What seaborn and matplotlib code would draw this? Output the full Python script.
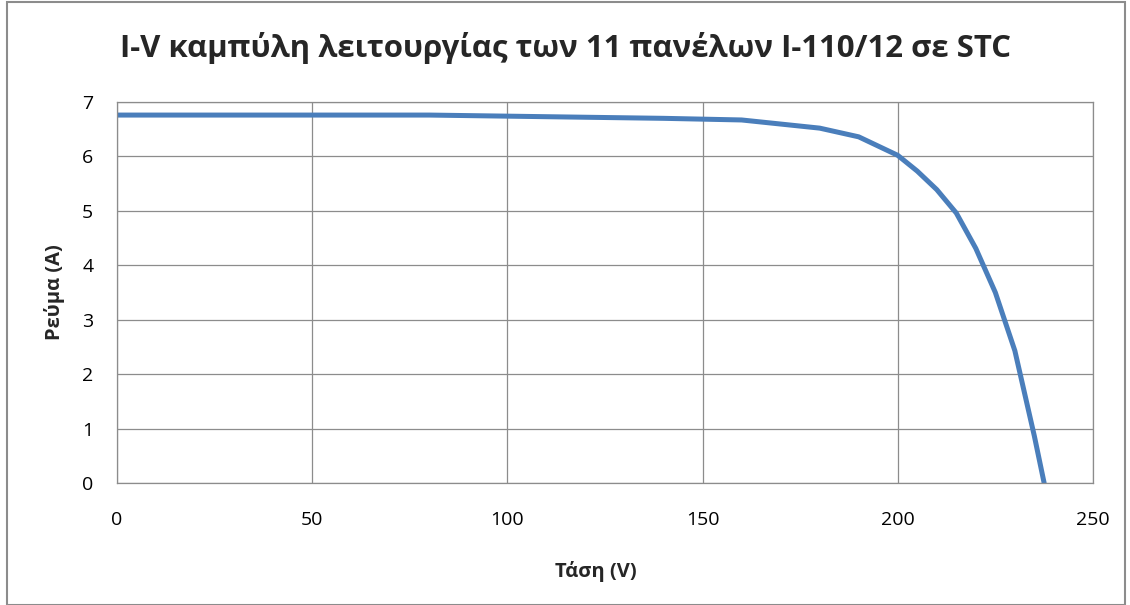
import matplotlib
matplotlib.use("Agg")
import matplotlib.pyplot as plt
import seaborn as sns
import pandas as pd
from matplotlib.patches import Rectangle

voltage = [0, 20, 40, 60, 80, 100, 120, 140, 160, 180, 190, 200, 205, 210, 215, 220, 225, 230, 235, 237.5]
current = [6.76, 6.76, 6.76, 6.76, 6.76, 6.74, 6.72, 6.70, 6.67, 6.52, 6.36, 6.02, 5.73, 5.39, 4.96, 4.31, 3.50, 2.43, 0.86, 0.0]
x_ticks = [0, 50, 100, 150, 200, 250]
y_ticks = [0, 1, 2, 3, 4, 5, 6, 7]
title = "I-V καμπύλη λειτουργίας των 11 πανέλων I-110/12 σε STC"
xlabel = "Τάση (V)"
ylabel = "Ρεύμα (A)"

sns.set_theme(style="white")
plt.rcParams['font.family'] = ['Open Sans', 'DejaVu Sans']

df = pd.DataFrame({"V": voltage, "I": current})

fig = plt.figure(figsize=(11.3, 6.05), dpi=100)
ax = fig.add_axes([0.1035, 0.2017, 0.8637, 0.6297])

sns.lineplot(data=df, x="V", y="I", ax=ax, color="#4A7EBB", linewidth=3.6, sort=False)

ax.set_xlim(0, 250)
ax.set_ylim(0, 7)
ax.set_xticks(x_ticks)
ax.set_yticks(y_ticks)
ax.grid(True, color="#8c8c8c", linewidth=0.9)
ax.set_axisbelow(True)
for s in ax.spines.values():
    s.set_color("#8c8c8c")
    s.set_linewidth(0.9)
ax.tick_params(axis="both", labelsize=14, colors="#000000", length=0)
ax.tick_params(axis="x", pad=20)
ax.tick_params(axis="y", pad=17)

ax.set_xlabel(xlabel, fontsize=14.5, fontweight="bold")
ax.set_ylabel(ylabel, fontsize=14.5, fontweight="bold")
ax.xaxis.set_label_coords(0.491, -0.205)
ax.yaxis.set_label_coords(-0.053, 0.5)
fig.text(0.5, 1 - 48 / 605, title, fontsize=22.4, fontweight="bold", ha="center", va="center")

fig.patches.append(Rectangle((0.006, 0.0), 0.99, 0.997, transform=fig.transFigure,
                             fill=False, edgecolor="#8c8c8c", linewidth=1.5))

fig.savefig("out.png", dpi=100)
